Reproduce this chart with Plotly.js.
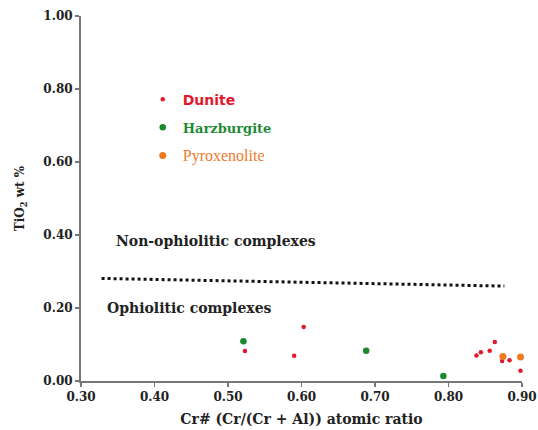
<!DOCTYPE html>
<html><head><meta charset="utf-8">
<script src="https://cdn.plot.ly/plotly-3.0.1.min.js"></script>
<style>body{margin:0;background:#fff}#c{width:538px;height:430px}</style>
</head><body><div id="c"></div>
<script>
const duniteX = [0.523, 0.603, 0.590, 0.838, 0.844, 0.856, 0.863, 0.873, 0.883, 0.898];
const duniteY = [0.082, 0.148, 0.069, 0.070, 0.079, 0.083, 0.107, 0.055, 0.057, 0.028];
const harzX = [0.521, 0.688, 0.793];
const harzY = [0.109, 0.083, 0.014];
const pyroX = [0.874, 0.898];
const pyroY = [0.067, 0.066];
const boundaryX = [0.328, 0.876];
const boundaryY = [0.281, 0.260];
const xTicks = [0.3, 0.4, 0.5, 0.6, 0.7, 0.8, 0.9];
const yTicks = [0, 0.2, 0.4, 0.6, 0.8, 1.0];

const bserif = "'DejaVu Serif', serif";
const serif = "'Liberation Serif', serif";
const traces = [
  {x: duniteX, y: duniteY, mode: 'markers', type: 'scatter', cliponaxis: false, legendgroup: 'a',
   name: '<span style="font-family:\'DejaVu Sans\';font-weight:bold;font-size:14px;color:#e3182d">Dunite</span>',
   marker: {color: '#e3182d', size: 4.5}},
  {x: harzX, y: harzY, mode: 'markers', type: 'scatter', cliponaxis: false, legendgroup: 'b',
   name: '<span style="font-family:\'DejaVu Serif\';font-weight:bold;font-size:13px;color:#1f8a35">Harzburgite</span>',
   marker: {color: '#1a8a2e', size: 6.5}},
  {x: pyroX, y: pyroY, mode: 'markers', type: 'scatter', cliponaxis: false, legendgroup: 'c',
   name: '<span style="font-family:\'Liberation Serif\';font-size:16px;color:#ef7a2a">Pyroxenolite</span>',
   marker: {color: '#f07a1e', size: 7}},
  {x: boundaryX, y: boundaryY, mode: 'lines', type: 'scatter', showlegend: false,
   line: {color: '#111', width: 3, dash: 'dot'}, hoverinfo: 'skip'}
];

const layout = {
  width: 538, height: 430,
  margin: {l: 81, r: 16, t: 16, b: 49},
  paper_bgcolor: '#fff', plot_bgcolor: '#fff',
  font: {family: bserif, color: '#222'},
  showlegend: true,
  legend: {x: 0.14, y: 0.815, xanchor: 'left', yanchor: 'top', bgcolor: 'rgba(0,0,0,0)',
           font: {family: serif, size: 14}, tracegroupgap: 7},
  xaxis: {range: [0.3, 0.9], tickvals: xTicks, ticktext: xTicks.map(v => v.toFixed(2)),
          showgrid: false, zeroline: false, showline: true, linecolor: '#777', linewidth: 2,
          ticks: 'outside', ticklen: 4, tickwidth: 1.5, tickcolor: '#777',
          tickfont: {family: bserif, size: 12, color: '#222', weight: 'bold'},
          title: {text: '<b>Cr# (Cr/(Cr + Al)) atomic ratio</b>', font: {family: bserif, size: 14, color: '#222'}, standoff: 11}},
  yaxis: {range: [0, 1.0], tickvals: yTicks, ticktext: yTicks.map(v => v.toFixed(2)),
          showgrid: false, zeroline: false, showline: true, linecolor: '#777', linewidth: 2,
          ticks: 'outside', ticklen: 4, tickwidth: 1.5, tickcolor: '#777',
          tickfont: {family: bserif, size: 12, color: '#222', weight: 'bold'},
          title: {text: '<b>TiO<sub>2</sub> wt %</b>', font: {family: bserif, size: 12, color: '#222'}, standoff: 16}},
  annotations: [
    {x: 0.4843, y: 0.383, xref: 'x', yref: 'y', text: '<b>Non-ophiolitic complexes</b>', showarrow: false,
     font: {family: bserif, size: 14, color: '#222'}},
    {x: 0.448, y: 0.199, xref: 'x', yref: 'y', text: '<b>Ophiolitic complexes</b>', showarrow: false,
     font: {family: bserif, size: 14, color: '#222'}}
  ]
};
Plotly.newPlot('c', traces, layout, {displayModeBar: false, staticPlot: true});
</script></body></html>
